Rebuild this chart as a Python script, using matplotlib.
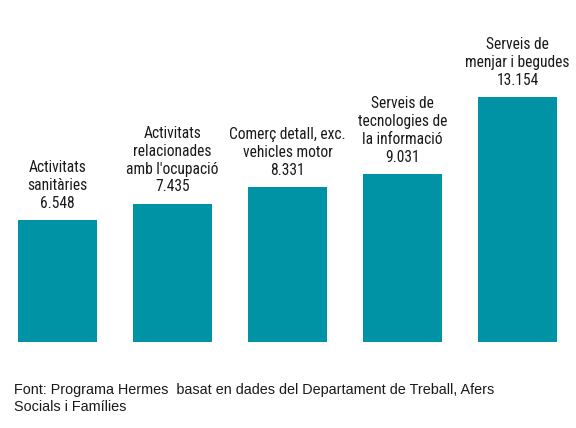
import matplotlib
matplotlib.use("Agg")
import matplotlib.pyplot as plt
from matplotlib import font_manager

categories = ["Activitats\nsanitàries", "Activitats\nrelacionades\namb l'ocupació",
              "Comerç detall, exc.\nvehicles motor", "Serveis de\ntecnologies de\nla informació",
              "Serveis de\nmenjar i begudes"]
values = [6548, 7435, 8331, 9031, 13154]
value_labels = ["6.548", "7.435", "8.331", "9.031", "13.154"]
source = "Font: Programa Hermes  basat en dades del Departament de Treball, Afers\nSocials i Famílies"

names = {f.name for f in font_manager.fontManager.ttflist}
narrow = "Liberation Sans Narrow" if "Liberation Sans Narrow" in names else "Roboto Condensed" if "Roboto Condensed" in names else "Liberation Sans"

W, H = 576, 428
fig = plt.figure(figsize=(W / 100, H / 100), dpi=100)
base_px = 342
ax = fig.add_axes([0, (H - base_px) / H, 1, base_px / H])
color = "#0093A6"
x = list(range(len(values)))
ax.bar(x, values, width=79 / 115, color=color)
ax.set_xlim(-57.5 / 115, (W - 57.5) / 115)
ymax = base_px * max(values) / 245
ax.set_ylim(0, ymax)
ax.axis("off")

for xi, v, cat, vl in zip(x, values, categories, value_labels):
    ax.annotate(cat + "\n" + vl, (xi, v), xytext=(0, 6.5), textcoords="offset points",
                ha="center", va="bottom", fontsize=11.2, family=narrow,
                color="#1a1a1a", linespacing=1.24)

fig.text(14 / W, 1 - 383 / H, source, ha="left", va="top", fontsize=10.4,
         family="Liberation Sans", color="#1a1a1a", linespacing=1.3)

fig.savefig("out.png", dpi=100)
